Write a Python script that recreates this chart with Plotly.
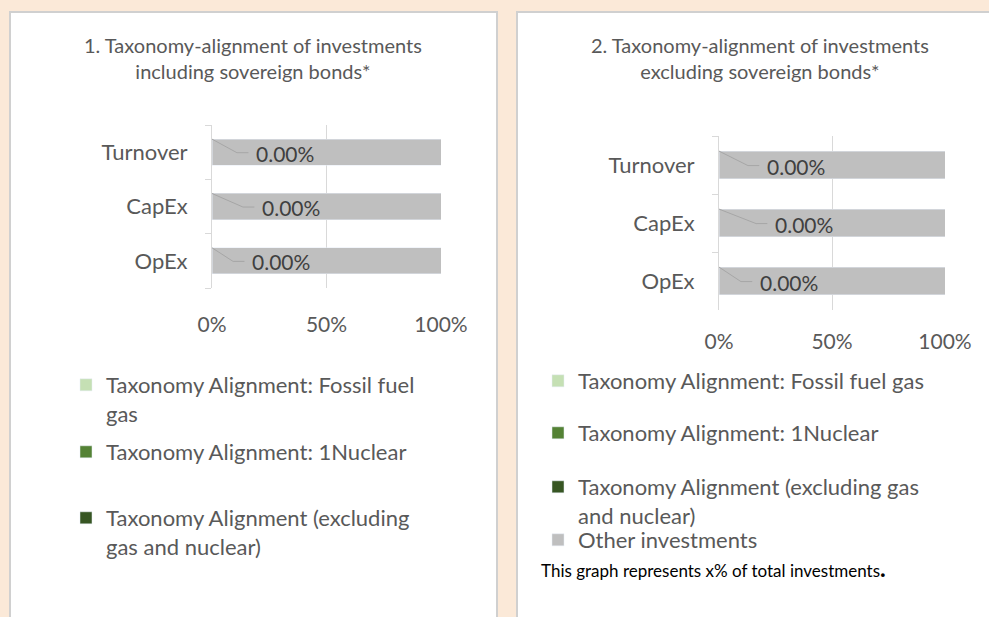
import plotly.graph_objects as go

# categories bottom -> top (plotly puts the first category at the bottom)
categories = ["OpEx", "CapEx", "Turnover"]

series_colors = ["#C5E0B4", "#548235", "#375623", "#BFBFBF"]

# chart 1: including sovereign bonds
incl_gas = [0, 0, 0]
incl_nuclear = [0, 0, 0]
incl_aligned = [0, 0, 0]
incl_other = [100, 100, 100]

# chart 2: excluding sovereign bonds
excl_gas = [0, 0, 0]
excl_nuclear = [0, 0, 0]
excl_aligned = [0, 0, 0]
excl_other = [100, 100, 100]

tick_vals = [0, 50, 100]
tick_text = [f"{v}%" for v in tick_vals]

GREY = "#595959"
FONT = "Lato"
W, H = 989, 617

# legend names as wrapped in each chart (Excel wraps them differently)
names_left = [
    "Taxonomy Alignment: Fossil fuel<br>gas",
    "Taxonomy Alignment: 1Nuclear",
    "Taxonomy Alignment (excluding<br>gas and nuclear)",
    "Other investments",
]
names_right = [
    "Taxonomy Alignment: Fossil fuel gas",
    "Taxonomy Alignment: 1Nuclear",
    "Taxonomy Alignment (excluding gas<br>and nuclear)",
    "Other investments",
]

# each legend entry gets its own legend box so it can sit where Excel put it
# (pixel y of the entry's first text line); None = not shown
legend_y_left = [386, 453, 519, None]
legend_y_right = [382, 434, 488, 541]

fig = go.Figure()

legend_layout = {}
leg_no = 1
charts = [
    ([incl_gas, incl_nuclear, incl_aligned, incl_other], "x", "y", names_left, legend_y_left, 66),
    ([excl_gas, excl_nuclear, excl_aligned, excl_other], "x2", "y2", names_right, legend_y_right, 538),
]
for values, xa, ya, names, leg_y, leg_x in charts:
    for k, vals in enumerate(values):
        leg = "legend" if leg_no == 1 else f"legend{leg_no}"
        show = leg_y[k] is not None
        fig.add_trace(go.Bar(
            x=vals, y=categories, orientation="h",
            name=names[k], marker_color=series_colors[k],
            xaxis=xa, yaxis=ya, legend=leg, showlegend=show,
            hoverinfo="x+name",
        ))
        if show:
            legend_layout[leg] = dict(
                x=leg_x / W, y=1 - (leg_y[k] - 22) / H,
                xanchor="left", yanchor="top", valign="top",
                font=dict(family=FONT, size=22, color=GREY),
                bgcolor="rgba(0,0,0,0)", itemclick=False, itemdoubleclick=False,
            )
        leg_no += 1

# data labels "0.00%" with Excel-style leader lines
# per row (OpEx, CapEx, Turnover): where the leader bends, in % of x axis
bend_left = [9.2, 13.5, 10.9]
bend_right = [9.7, 16.4, 12.8]

shapes = []
annotations = []
for xr, yr, bends, lv in [("x", "y", bend_left, incl_aligned),
                          ("x2", "y2", bend_right, excl_aligned)]:
    for i, cat in enumerate(categories):
        x0 = lv[i]
        shapes.append(dict(type="line", xref=xr, yref=yr, x0=x0, y0=i + 0.24,
                           x1=x0 + bends[i], y1=i - 0.01,
                           line=dict(color="#A6A6A6", width=1)))
        shapes.append(dict(type="line", xref=xr, yref=yr, x0=x0 + bends[i], y0=i - 0.01,
                           x1=x0 + bends[i] + 5, y1=i - 0.01,
                           line=dict(color="#A6A6A6", width=1)))
        annotations.append(dict(xref=xr, yref=yr, x=x0 + bends[i] + 7.5, y=i - 0.02,
                                text=f"{lv[i]:.2f}%", showarrow=False, xanchor="left",
                                font=dict(family=FONT, size=21, color="#404040")))

# white chart panels on the beige page
shapes.append(dict(type="rect", xref="paper", yref="paper", layer="below",
                   x0=10 / W, x1=497 / W, y0=-0.05, y1=1 - 12 / H,
                   fillcolor="white", line=dict(color="#D0D0D0", width=2)))
shapes.append(dict(type="rect", xref="paper", yref="paper", layer="below",
                   x0=517 / W, x1=1.05, y0=-0.05, y1=1 - 12 / H,
                   fillcolor="white", line=dict(color="#D0D0D0", width=2)))

titles = [
    ("1. Taxonomy-alignment of investments<br>including sovereign bonds*", 253),
    ("2. Taxonomy-alignment of investments<br>excluding sovereign bonds*", 760),
]
for txt, cx in titles:
    annotations.append(dict(xref="paper", yref="paper", x=cx / W, y=1 - 58 / H,
                            yanchor="middle", xanchor="center", showarrow=False, text=txt,
                            font=dict(family=FONT, size=20, color=GREY)))

annotations.append(dict(xref="paper", yref="paper", x=539 / W, y=1 - 567 / H,
                        xanchor="left", yanchor="middle", showarrow=False,
                        text="This graph represents x% of total investments"
                             "<span style='font-size:24px'><b>.</b></span>",
                        font=dict(family=FONT, size=17, color="black")))

xaxis_style = dict(range=[0, 100], tickmode="array", tickvals=tick_vals, ticktext=tick_text,
                   showgrid=True, gridcolor="#D9D9D9", gridwidth=1, zeroline=False,
                   showline=False, ticks="", automargin=False,
                   tickfont=dict(family=FONT, size=21, color=GREY), fixedrange=True)
yaxis_style = dict(type="category", showline=True, linecolor="#D9D9D9", linewidth=1,
                   ticks="outside", tickson="boundaries", ticklen=6, tickcolor="#D9D9D9",
                   ticklabelstandoff=19, showgrid=False, automargin=False,
                   tickfont=dict(family=FONT, size=22, color=GREY), fixedrange=True)

fig.update_layout(
    width=W, height=H,
    margin=dict(l=0, r=0, t=0, b=0),
    paper_bgcolor="#FBE9D8",
    plot_bgcolor="rgba(0,0,0,0)",
    barmode="stack", bargap=0.52,
    xaxis=dict(domain=[212 / W, 441 / W], anchor="y", ticklabelstandoff=22, **xaxis_style),
    yaxis=dict(domain=[1 - 288 / H, 1 - 125 / H], anchor="x", **yaxis_style),
    xaxis2=dict(domain=[719 / W, 945 / W], anchor="y2", ticklabelstandoff=17, **xaxis_style),
    yaxis2=dict(domain=[1 - 310 / H, 1 - 136 / H], anchor="x2", **yaxis_style),
    shapes=shapes,
    annotations=annotations,
    showlegend=True,
    **legend_layout,
)

# drop the browser's default 8px body margin so the figure fills the window
fig.write_html("out.html", config={"displayModeBar": False},
               post_script="document.body.style.margin='0';")
